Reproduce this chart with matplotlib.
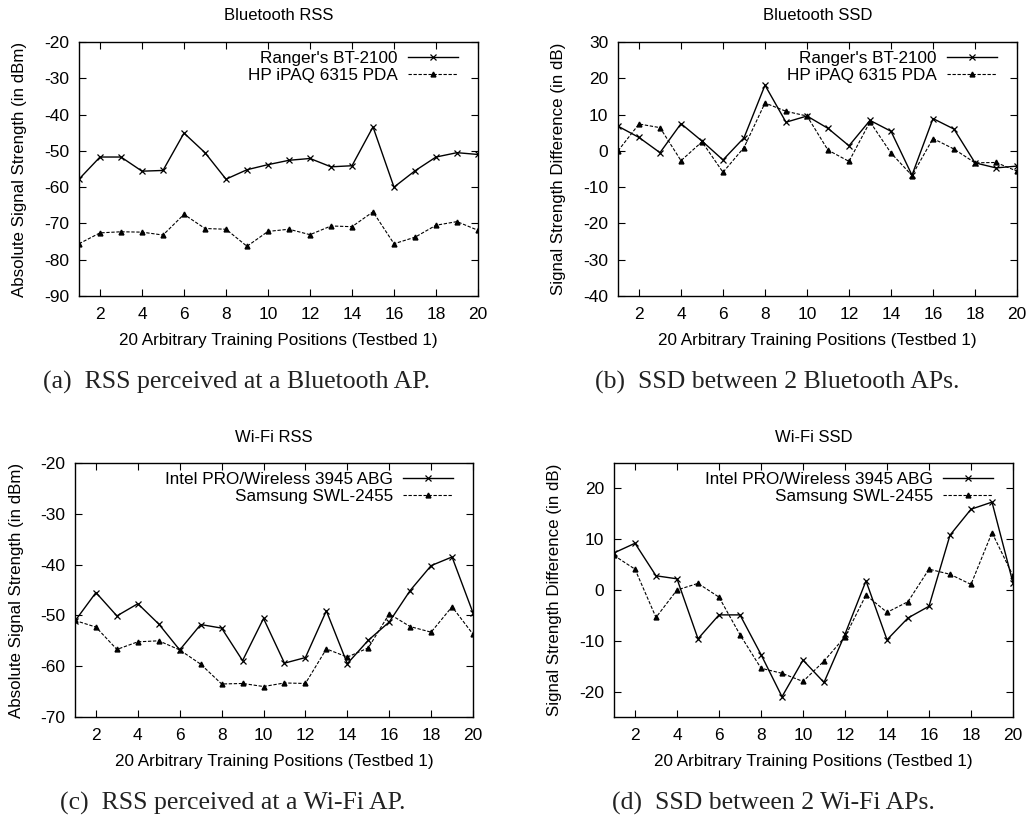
import matplotlib
matplotlib.use("Agg")
import matplotlib.pyplot as plt

plt.rcParams['font.family'] = ['Liberation Sans', 'DejaVu Sans']
plt.rcParams['axes.unicode_minus'] = False

positions = list(range(1, 21))

# Bluetooth RSS (dBm)
bt_rss_ranger = [-57.8, -51.7, -51.7, -55.6, -55.4, -45.1, -50.5, -57.8, -55.2, -53.8,
                 -52.6, -52.1, -54.4, -54.1, -43.4, -60.0, -55.5, -51.7, -50.5, -51.0]
bt_rss_hp = [-75.6, -72.6, -72.3, -72.4, -73.2, -67.5, -71.4, -71.6, -76.3, -72.2,
             -71.6, -73.1, -70.7, -70.9, -66.8, -75.6, -73.8, -70.5, -69.5, -71.9]

# Bluetooth SSD (dB)
bt_ssd_ranger = [6.8, 3.7, -0.5, 7.5, 2.7, -2.5, 3.6, 18.1, 7.9, 9.6,
                 6.2, 1.4, 8.4, 5.4, -6.7, 8.9, 6.0, -3.3, -4.7, -4.2]
bt_ssd_hp = [0.0, 7.4, 6.4, -2.7, 2.5, -5.9, 0.9, 13.2, 10.9, 9.6,
             0.2, -2.9, 8.0, -0.6, -6.8, 3.4, 0.5, -3.3, -3.2, -5.6]

# Wi-Fi RSS (dBm)
wifi_rss_intel = [-51.1, -45.5, -50.1, -47.7, -51.7, -56.8, -51.8, -52.5, -58.9, -50.6,
                  -59.4, -58.3, -49.1, -59.5, -54.9, -51.3, -45.1, -40.2, -38.5, -49.5]
wifi_rss_samsung = [-51.0, -52.3, -56.7, -55.2, -55.0, -56.8, -59.6, -63.5, -63.4, -64.0,
                    -63.3, -63.4, -56.6, -58.2, -56.4, -49.7, -52.2, -53.3, -48.3, -53.7]

# Wi-Fi SSD (dB)
wifi_ssd_intel = [7.3, 9.2, 2.8, 2.2, -9.6, -4.9, -4.9, -12.7, -21.0, -13.8,
                  -18.2, -8.7, 1.8, -9.8, -5.5, -3.2, 10.8, 15.9, 17.3, 1.4]
wifi_ssd_samsung = [6.8, 4.1, -5.4, 0.0, 1.3, -1.4, -8.8, -15.4, -16.4, -18.0,
                    -14.0, -9.2, -1.0, -4.4, -2.3, 4.1, 3.1, 1.1, 11.3, 2.8]

xlabel = "20 Arbitrary Training Positions (Testbed 1)"

W, H = 1031, 821
fig = plt.figure(figsize=(W / 100, H / 100), dpi=100)


def px_axes(left, top, right, bottom):
    return fig.add_axes([left / W, 1 - bottom / H, (right - left) / W, (bottom - top) / H])


def panel(ax, s1, s2, lab1, lab2, title, ylabel, ylim, yticks, caption, cap_x, ylab_x):
    ax.plot(positions, s1, color='black', lw=1.0, marker='x', ms=4.5, mew=0.9, label=lab1)
    ax.plot(positions, s2, color='black', lw=0.8, ls=(0, (3, 1.5)), marker='^', ms=3.5,
            label=lab2)
    ax.set_xlim(1, 20)
    ax.set_ylim(*ylim)
    ax.set_xticks(range(2, 21, 2))
    ax.set_yticks(yticks)
    ax.tick_params(direction='in', length=5, width=0.8, top=True, right=True,
                   labelsize=12.5, colors='black')
    ax.tick_params(axis='x', pad=8)
    ax.tick_params(axis='y', pad=7)
    for sp in ax.spines.values():
        sp.set_linewidth(1.0)
    ax.legend(loc='upper right', bbox_to_anchor=(0.975, 1.005), frameon=False,
              markerfirst=False, fontsize=12.3, handlelength=2.9, handletextpad=0.6,
              labelspacing=0.1, borderaxespad=0.2)

    bb = ax.get_position()
    cx = (bb.x0 + bb.x1) / 2
    top_px = (1 - bb.y1) * H
    bot_px = (1 - bb.y0) * H
    fig.text(cx, 1 - (top_px - 26) / H, title, ha='center', va='center', fontsize=12)
    fig.text(cx, 1 - (bot_px + 44) / H, xlabel, ha='center', va='center', fontsize=12.3)
    fig.text(ylab_x / W, (bb.y0 + bb.y1) / 2, ylabel, ha='center', va='center',
             rotation=90, fontsize=12.2)
    fig.text(cap_x / W, 1 - (bot_px + 86) / H, caption, ha='center', va='center',
             fontsize=18.5, family='Liberation Serif', color='#222222')


ax_a = px_axes(79, 42, 478, 296)
panel(ax_a, bt_rss_ranger, bt_rss_hp, "Ranger's BT-2100", "HP iPAQ 6315 PDA",
      "Bluetooth RSS", "Absolute Signal Strength (in dBm)", (-90, -20),
      range(-90, -19, 10), "(a)  RSS perceived at a Bluetooth AP.", 237, 20)

ax_b = px_axes(618, 42, 1017, 296)
panel(ax_b, bt_ssd_ranger, bt_ssd_hp, "Ranger's BT-2100", "HP iPAQ 6315 PDA",
      "Bluetooth SSD", "Signal Strength Difference (in dB)", (-40, 30),
      range(-40, 31, 10), "(b)  SSD between 2 Bluetooth APs.", 777, 558)

ax_c = px_axes(75, 463, 473, 717)
panel(ax_c, wifi_rss_intel, wifi_rss_samsung, "Intel PRO/Wireless 3945 ABG", "Samsung SWL-2455",
      "Wi-Fi RSS", "Absolute Signal Strength (in dBm)", (-70, -20),
      range(-70, -19, 10), "(c)  RSS perceived at a Wi-Fi AP.", 233, 17)

ax_d = px_axes(614, 463, 1013, 717)
panel(ax_d, wifi_ssd_intel, wifi_ssd_samsung, "Intel PRO/Wireless 3945 ABG", "Samsung SWL-2455",
      "Wi-Fi SSD", "Signal Strength Difference (in dB)", (-25, 25),
      range(-20, 21, 10), "(d)  SSD between 2 Wi-Fi APs.", 773, 555)

fig.savefig("out.png", dpi=100)
